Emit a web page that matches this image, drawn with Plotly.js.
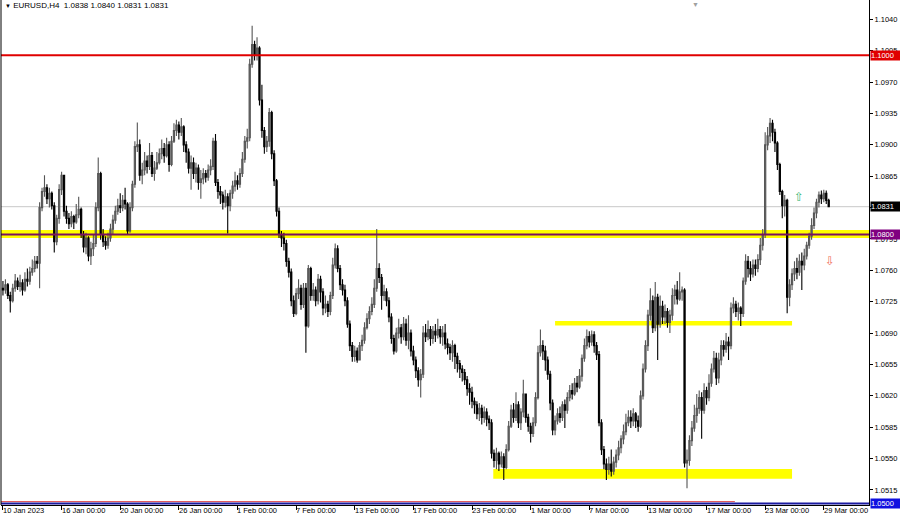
<!DOCTYPE html>
<html><head><meta charset="utf-8">
<script src="https://cdn.plot.ly/plotly-3.0.1.min.js"></script>
<style>html,body{margin:0;padding:0;background:#fff;}#chart{width:900px;height:516px;}</style>
</head><body><div id="chart"></div>
<script>
const headerText = "EURUSD,H4  1.0838 1.0840 1.0831 1.0831";
const firstOpen = 1.0740;
const close = [
1.0738,1.0744,1.0732,1.0726,1.0740,1.0748,1.0742,1.0746,1.0738,1.0750,
1.0748,1.0758,1.0762,1.0770,1.0768,1.0830,1.0848,1.0852,1.0840,1.0846,
1.0832,1.0792,1.0818,1.0850,1.0866,1.0826,1.0818,1.0812,1.0820,1.0814,
1.0822,1.0828,1.0800,1.0786,1.0796,1.0776,1.0784,1.0790,1.0830,1.0868,
1.0800,1.0792,1.0788,1.0796,1.0806,1.0816,1.0826,1.0832,1.0830,1.0838,
1.0834,1.0804,1.0830,1.0856,1.0898,1.0900,1.0866,1.0872,1.0882,1.0876,
1.0888,1.0868,1.0874,1.0880,1.0890,1.0896,1.0888,1.0900,1.0878,1.0904,
1.0916,1.0922,1.0914,1.0920,1.0900,1.0892,1.0874,1.0880,1.0868,1.0874,
1.0858,1.0862,1.0868,1.0864,1.0872,1.0876,1.0904,1.0858,1.0848,1.0844,
1.0836,1.0842,1.0832,1.0846,1.0854,1.0860,1.0856,1.0868,1.0884,1.0904,
1.0908,1.0990,1.1012,1.1000,1.1008,1.0950,1.0916,1.0898,1.0904,1.0936,
1.0890,1.0860,1.0826,1.0800,1.0796,1.0790,1.0770,1.0758,1.0726,1.0712,
1.0734,1.0740,1.0722,1.0740,1.0698,1.0762,1.0732,1.0738,1.0726,1.0750,
1.0736,1.0718,1.0722,1.0714,1.0732,1.0766,1.0784,1.0762,1.0744,1.0738,
1.0726,1.0700,1.0676,1.0664,1.0670,1.0660,1.0676,1.0682,1.0696,1.0706,
1.0714,1.0722,1.0740,1.0762,1.0752,1.0732,1.0736,1.0726,1.0708,1.0684,
1.0670,1.0690,1.0696,1.0686,1.0700,1.0682,1.0690,1.0670,1.0660,1.0648,
1.0638,1.0644,1.0690,1.0686,1.0694,1.0684,1.0692,1.0688,1.0694,1.0686,
1.0690,1.0678,1.0674,1.0668,1.0676,1.0664,1.0656,1.0650,1.0646,1.0638,
1.0628,1.0624,1.0614,1.0610,1.0600,1.0606,1.0596,1.0602,1.0594,1.0590,
1.0556,1.0548,1.0556,1.0544,1.0552,1.0540,1.0560,1.0586,1.0604,1.0596,
1.0610,1.0590,1.0602,1.0622,1.0596,1.0586,1.0578,1.0590,1.0618,1.0668,
1.0676,1.0670,1.0660,1.0644,1.0612,1.0582,1.0592,1.0600,1.0596,1.0610,
1.0604,1.0618,1.0626,1.0622,1.0634,1.0630,1.0642,1.0662,1.0676,1.0686,
1.0680,1.0688,1.0676,1.0666,1.0590,1.0560,1.0544,1.0538,1.0544,1.0536,
1.0546,1.0554,1.0562,1.0572,1.0580,1.0590,1.0596,1.0592,1.0600,1.0592,
1.0586,1.0620,1.0650,1.0676,1.0710,1.0726,1.0696,1.0730,1.0700,1.0720,
1.0708,1.0714,1.0702,1.0710,1.0732,1.0738,1.0728,1.0736,1.0738,1.0545,
1.0548,1.0570,1.0584,1.0598,1.0606,1.0618,1.0604,1.0626,1.0618,1.0634,
1.0650,1.0662,1.0640,1.0660,1.0676,1.0672,1.0680,1.0676,1.0718,1.0722,
1.0714,1.0718,1.0712,1.0748,1.0770,1.0762,1.0756,1.0766,1.0762,1.0772,
1.0788,1.0800,1.0900,1.0910,1.0924,1.0914,1.0902,1.0878,1.0848,1.0832,
1.0838,1.0730,1.0744,1.0756,1.0762,1.0758,1.0770,1.0766,1.0776,1.0788,
1.0798,1.0810,1.0824,1.0836,1.0844,1.0840,1.0846,1.0838,1.0831];
const high = [
1.0748,1.0750,1.0746,1.0736,1.0745,1.0756,1.0752,1.0755,1.0750,1.0758,
1.0762,1.0764,1.0772,1.0776,1.0776,1.0836,1.0852,1.0866,1.0856,1.0852,
1.0848,1.0836,1.0822,1.0856,1.0870,1.0866,1.0832,1.0824,1.0826,1.0822,
1.0834,1.0842,1.0830,1.0804,1.0802,1.0798,1.0792,1.0800,1.0836,1.0886,
1.0870,1.0806,1.0798,1.0802,1.0812,1.0822,1.0832,1.0840,1.0846,1.0844,
1.0852,1.0836,1.0836,1.0860,1.0904,1.0925,1.0906,1.0880,1.0892,1.0888,
1.0902,1.0892,1.0882,1.0892,1.0896,1.0906,1.0902,1.0908,1.0904,1.0910,
1.0924,1.0928,1.0926,1.0930,1.0922,1.0904,1.0896,1.0888,1.0886,1.0880,
1.0878,1.0872,1.0874,1.0872,1.0878,1.0884,1.0908,1.0912,1.0862,1.0854,
1.0848,1.0850,1.0846,1.0850,1.0860,1.0870,1.0866,1.0874,1.0892,1.0910,
1.0918,1.0996,1.1033,1.1016,1.1020,1.1010,1.0967,1.0920,1.0910,1.0941,
1.0938,1.0894,1.0862,1.0830,1.0804,1.0802,1.0794,1.0774,1.0762,1.0732,
1.0740,1.0750,1.0744,1.0746,1.0746,1.0766,1.0764,1.0746,1.0742,1.0756,
1.0754,1.0740,1.0732,1.0726,1.0736,1.0774,1.0790,1.0788,1.0766,1.0750,
1.0744,1.0730,1.0704,1.0680,1.0676,1.0674,1.0680,1.0688,1.0702,1.0712,
1.0720,1.0730,1.0750,1.0806,1.0768,1.0756,1.0744,1.0740,1.0730,1.0712,
1.0688,1.0696,1.0706,1.0700,1.0708,1.0706,1.0710,1.0694,1.0676,1.0664,
1.0652,1.0650,1.0698,1.0700,1.0704,1.0698,1.0698,1.0700,1.0706,1.0698,
1.0698,1.0700,1.0684,1.0678,1.0682,1.0678,1.0668,1.0660,1.0654,1.0650,
1.0642,1.0634,1.0630,1.0618,1.0614,1.0612,1.0610,1.0608,1.0606,1.0598,
1.0594,1.0560,1.0562,1.0558,1.0558,1.0556,1.0566,1.0592,1.0610,1.0612,
1.0624,1.0614,1.0606,1.0638,1.0622,1.0600,1.0590,1.0596,1.0624,1.0676,
1.0694,1.0682,1.0676,1.0664,1.0648,1.0616,1.0598,1.0606,1.0608,1.0614,
1.0616,1.0624,1.0632,1.0634,1.0640,1.0642,1.0650,1.0666,1.0684,1.0694,
1.0692,1.0693,1.0692,1.0680,1.0670,1.0594,1.0564,1.0550,1.0552,1.0560,
1.0552,1.0560,1.0570,1.0576,1.0588,1.0600,1.0604,1.0604,1.0606,1.0602,
1.0598,1.0626,1.0656,1.0682,1.0716,1.0740,1.0732,1.0747,1.0734,1.0732,
1.0726,1.0722,1.0718,1.0716,1.0740,1.0744,1.0748,1.0758,1.0742,1.0740,
1.0560,1.0576,1.0592,1.0610,1.0622,1.0626,1.0624,1.0634,1.0630,1.0644,
1.0656,1.0670,1.0668,1.0668,1.0682,1.0682,1.0690,1.0686,1.0724,1.0730,
1.0726,1.0724,1.0720,1.0752,1.0778,1.0776,1.0770,1.0772,1.0772,1.0778,
1.0796,1.0806,1.0914,1.0920,1.0930,1.0928,1.0918,1.0904,1.0880,1.0850,
1.0844,1.0840,1.0750,1.0762,1.0770,1.0774,1.0778,1.0780,1.0784,1.0792,
1.0802,1.0818,1.0830,1.0840,1.0848,1.0849,1.0850,1.0849,1.0840];
const low = [
1.0732,1.0734,1.0728,1.0713,1.0724,1.0736,1.0738,1.0736,1.0732,1.0736,
1.0742,1.0744,1.0754,1.0758,1.0762,1.0740,1.0826,1.0842,1.0834,1.0830,
1.0828,1.0780,1.0788,1.0812,1.0844,1.0820,1.0812,1.0806,1.0808,1.0806,
1.0812,1.0818,1.0796,1.0780,1.0778,1.0770,1.0766,1.0776,1.0786,1.0826,
1.0794,1.0786,1.0783,1.0784,1.0792,1.0800,1.0812,1.0822,1.0824,1.0826,
1.0828,1.0800,1.0802,1.0826,1.0852,1.0892,1.0860,1.0856,1.0866,1.0868,
1.0872,1.0864,1.0860,1.0872,1.0878,1.0884,1.0880,1.0886,1.0870,1.0876,
1.0902,1.0910,1.0906,1.0910,1.0892,1.0880,1.0868,1.0850,1.0862,1.0858,
1.0850,1.0840,1.0856,1.0858,1.0860,1.0866,1.0872,1.0854,1.0840,1.0834,
1.0828,1.0830,1.0801,1.0826,1.0840,1.0848,1.0850,1.0852,1.0864,1.0880,
1.0896,1.0904,1.0986,1.0994,1.0994,1.0944,1.0908,1.0890,1.0892,1.0898,
1.0884,1.0854,1.0820,1.0796,1.0786,1.0782,1.0764,1.0752,1.0720,1.0708,
1.0710,1.0728,1.0716,1.0718,1.0668,1.0696,1.0726,1.0726,1.0720,1.0722,
1.0724,1.0710,1.0712,1.0708,1.0710,1.0728,1.0762,1.0758,1.0738,1.0732,
1.0720,1.0696,1.0670,1.0658,1.0658,1.0657,1.0660,1.0670,1.0678,1.0694,
1.0700,1.0710,1.0718,1.0736,1.0746,1.0716,1.0726,1.0720,1.0702,1.0678,
1.0666,1.0668,1.0684,1.0678,1.0682,1.0676,1.0672,1.0664,1.0654,1.0640,
1.0630,1.0618,1.0640,1.0680,1.0682,1.0676,1.0678,1.0680,1.0684,1.0678,
1.0676,1.0672,1.0666,1.0660,1.0658,1.0650,1.0646,1.0640,1.0636,1.0632,
1.0620,1.0610,1.0606,1.0600,1.0594,1.0592,1.0588,1.0590,1.0586,1.0582,
1.0550,1.0540,1.0538,1.0536,1.0540,1.0526,1.0538,1.0558,1.0584,1.0590,
1.0592,1.0584,1.0582,1.0596,1.0590,1.0580,1.0568,1.0574,1.0586,1.0616,
1.0664,1.0660,1.0648,1.0638,1.0604,1.0576,1.0576,1.0588,1.0590,1.0592,
1.0584,1.0600,1.0614,1.0616,1.0620,1.0624,1.0628,1.0636,1.0658,1.0672,
1.0674,1.0676,1.0668,1.0660,1.0586,1.0554,1.0538,1.0526,1.0532,1.0530,
1.0532,1.0540,1.0548,1.0556,1.0566,1.0576,1.0586,1.0584,1.0586,1.0584,
1.0580,1.0584,1.0616,1.0646,1.0670,1.0704,1.0690,1.0692,1.0660,1.0696,
1.0700,1.0700,1.0696,1.0690,1.0704,1.0722,1.0722,1.0726,1.0726,1.0540,
1.0517,1.0542,1.0564,1.0580,1.0590,1.0600,1.0572,1.0600,1.0610,1.0614,
1.0630,1.0646,1.0632,1.0634,1.0654,1.0664,1.0668,1.0660,1.0672,1.0712,
1.0708,1.0704,1.0698,1.0708,1.0744,1.0752,1.0748,1.0752,1.0754,1.0758,
1.0766,1.0782,1.0796,1.0894,1.0902,1.0904,1.0892,1.0872,1.0844,1.0818,
1.0820,1.0712,1.0720,1.0738,1.0748,1.0750,1.0754,1.0738,1.0760,1.0772,
1.0784,1.0794,1.0806,1.0818,1.0830,1.0834,1.0836,1.0834,1.0831];
const dateTickIndex = [0,24,48,72,96,120,144,168,192,216,240,264,288,312,336];
const dateTickText = ["10 Jan 2023","16 Jan 00:00","20 Jan 00:00","26 Jan 00:00","1 Feb 00:00",
  "7 Feb 00:00","13 Feb 00:00","17 Feb 00:00","23 Feb 00:00","1 Mar 00:00","7 Mar 00:00",
  "13 Mar 00:00","17 Mar 00:00","23 Mar 00:00","29 Mar 00:00"];
const priceTicks = [1.0515,1.0550,1.0585,1.0620,1.0655,1.0690,1.0725,1.0760,1.0795,1.0830,
  1.0865,1.0900,1.0935,1.0970,1.1005,1.1040];
// tick labels fully hidden behind a price box in the reference
const hiddenTickLabels = [1.0830];
// horizontal levels
const resistanceLevel = 1.1000;
const bidLevel = 1.0831;
const pivotLevel = 1.0800;
const pivotZone = [1.0796, 1.0805];
const upperZone = [1.06985, 1.07035];
const lowerZone = [1.05275, 1.05385];
const upperZoneSpan = [226, 323];
const lowerZoneSpan = [200.7, 323];
const floorLevel = 1.0500;
const floorRedLevel = 1.0502;
const floorRedEnd = 299.6;
const upArrowAt = [326, 1.0842];
const downArrowAt = [338.5, 1.0770];
const shiftMarkerAt = 283.3;

const idx = close.map((_, i) => i);
const open = close.map((c, i) => i === 0 ? firstOpen : close[i - 1]);

const FONT = "Liberation Sans, Arial, sans-serif";

const trace = {
  type: 'candlestick', x: idx, open: open, high: high, low: low, close: close,
  increasing: {line: {color: '#555555', width: 1.1}, fillcolor: '#9c9c9c'},
  decreasing: {line: {color: '#000000', width: 1.1}, fillcolor: '#000000'},
  whiskerwidth: 0, hoverinfo: 'skip', showlegend: false
};

const shapes = [
  {type:'rect', xref:'paper', x0:0, x1:1, yref:'y', y0:pivotZone[0], y1:pivotZone[1], fillcolor:'#ffff00', line:{width:0}, layer:'below'},
  {type:'rect', xref:'x', x0:upperZoneSpan[0], x1:upperZoneSpan[1], yref:'y', y0:upperZone[0], y1:upperZone[1], fillcolor:'#ffff00', line:{width:0}, layer:'below'},
  {type:'rect', xref:'x', x0:lowerZoneSpan[0], x1:lowerZoneSpan[1], yref:'y', y0:lowerZone[0], y1:lowerZone[1], fillcolor:'#ffff00', line:{width:0}, layer:'below'},
  {type:'line', xref:'paper', x0:0, x1:1, yref:'y', y0:bidLevel, y1:bidLevel, line:{color:'#c8c8c8', width:1}, layer:'below'},
  {type:'line', xref:'paper', x0:0, x1:1, yref:'y', y0:resistanceLevel, y1:resistanceLevel, line:{color:'#e00000', width:2}},
  {type:'line', xref:'paper', x0:0, x1:1, yref:'y', y0:pivotLevel, y1:pivotLevel, line:{color:'#7a1060', width:2}},
  {type:'line', xref:'x', x0:-0.8, x1:floorRedEnd, yref:'y', y0:floorRedLevel, y1:floorRedLevel, line:{color:'#e05050', width:1}},
  {type:'line', xref:'paper', x0:0, x1:1, yref:'y', y0:floorLevel, y1:floorLevel, line:{color:'#1a1aa0', width:2}},
  {type:'line', xref:'paper', x0:0, x1:0, yref:'paper', y0:0, y1:1, line:{color:'#000', width:1}}
];

const annotations = [];
dateTickIndex.forEach((t, k) => {
  annotations.push({x:t, xref:'x', y:0, yref:'paper', yanchor:'top', xanchor:'left', xshift:-2, yshift:1,
    text:dateTickText[k], showarrow:false, font:{family:FONT, size:7.5, color:'#000'}});
});
annotations.push({x:0, xref:'paper', y:1, yref:'paper', xanchor:'left', yanchor:'top', xshift:2, yshift:1,
  text:'<span style="font-size:6px">▼</span> ' + headerText, showarrow:false, font:{family:FONT, size:8, color:'#000'}});
const boxes = [[resistanceLevel,'#e00000','#ffffff'],[bidLevel,'#000000','#ffffff'],[pivotLevel,'#800080','#ffffff'],[floorLevel,'#1010e0','#ffffff']];
boxes.forEach(b => {
  annotations.push({x:1, xref:'paper', y:b[0], yref:'y', xanchor:'left', yanchor:'middle', xshift:1,
    text:b[0].toFixed(4), showarrow:false, bgcolor:b[1], borderpad:0, width:30, height:9, align:'left',
    font:{family:FONT, size:7.5, color:b[2]}});
});
annotations.push({x:upArrowAt[0], xref:'x', y:upArrowAt[1], yref:'y', text:'⇧', showarrow:false,
  font:{family:'DejaVu Sans', size:12, color:'#3cb878'}});
annotations.push({x:downArrowAt[0], xref:'x', y:downArrowAt[1], yref:'y', text:'⇩', showarrow:false,
  font:{family:'DejaVu Sans', size:12, color:'#f07060'}});
annotations.push({x:shiftMarkerAt, xref:'x', y:1, yref:'paper', yanchor:'top', yshift:1, text:'▼', showarrow:false,
  font:{family:FONT, size:7, color:'#a0a0a0'}});

const layout = {
  width:900, height:516, margin:{l:1, r:31, t:0, b:11},
  paper_bgcolor:'#ffffff', plot_bgcolor:'#ffffff', showlegend:false, hovermode:false,
  font:{family:FONT, size:7.5, color:'#000'},
  xaxis:{range:[-0.8, 354.5], showgrid:false, zeroline:false, showline:true, linecolor:'#000', linewidth:1,
    ticks:'outside', ticklen:4, tickcolor:'#000', tickvals:dateTickIndex, showticklabels:false,
    rangeslider:{visible:false}, fixedrange:true},
  yaxis:{side:'right', range:[1.04982, 1.10616], showgrid:false, zeroline:false, showline:true, linecolor:'#000', linewidth:1,
    ticks:'outside', ticklen:3, tickcolor:'#000', tickvals:priceTicks,
    ticktext:priceTicks.map(v => hiddenTickLabels.includes(v) ? '' : v.toFixed(4)),
    tickfont:{family:FONT, size:7.5, color:'#000'}, fixedrange:true},
  shapes:shapes, annotations:annotations
};

Plotly.newPlot('chart', [trace], layout, {displayModeBar:false, staticPlot:true});
</script></body></html>
